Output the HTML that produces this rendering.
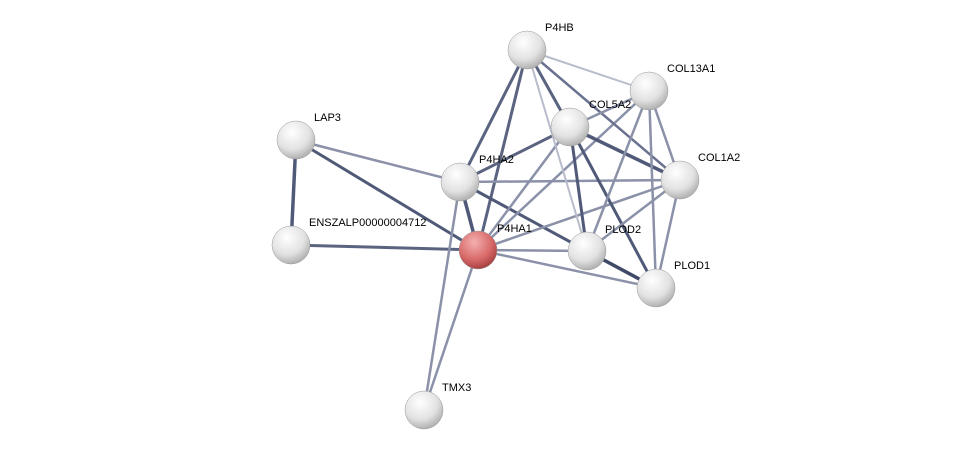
<!DOCTYPE html>
<html><head><meta charset="utf-8"><style>
html,body{margin:0;padding:0;background:#fff;}
svg{display:block;}
text{font-family:"Liberation Sans",sans-serif;font-size:11px;fill:#000;}
</style></head><body>
<svg width="975" height="456" viewBox="0 0 975 456">
<defs>
<radialGradient id="g" cx="0.4" cy="0.3" r="0.75">
<stop offset="0" stop-color="#ffffff"/><stop offset="0.6" stop-color="#e2e2e2"/><stop offset="1" stop-color="#a8a8a8"/>
</radialGradient>
<radialGradient id="r" cx="0.4" cy="0.3" r="0.75">
<stop offset="0" stop-color="#f4b0b0"/><stop offset="0.6" stop-color="#d96a6a"/><stop offset="1" stop-color="#a03a3a"/>
</radialGradient>
</defs>
<g stroke-linecap="round">
<line x1="296" y1="140" x2="291" y2="245" stroke="#505a78" stroke-width="3.5"/>
<line x1="296" y1="140" x2="478" y2="250" stroke="#505a78" stroke-width="3"/>
<line x1="296" y1="140" x2="460" y2="182" stroke="#8a91a8" stroke-width="2.5"/>
<line x1="291" y1="245" x2="478" y2="250" stroke="#5a6480" stroke-width="3"/>
<line x1="460" y1="182" x2="527" y2="50" stroke="#5a6480" stroke-width="3"/>
<line x1="478" y1="250" x2="527" y2="50" stroke="#5a6480" stroke-width="3"/>
<line x1="460" y1="182" x2="570" y2="127" stroke="#5a6480" stroke-width="3"/>
<line x1="460" y1="182" x2="680" y2="180" stroke="#8a91a8" stroke-width="2.5"/>
<line x1="460" y1="182" x2="478" y2="250" stroke="#505a78" stroke-width="3.5"/>
<line x1="460" y1="182" x2="587" y2="251" stroke="#505a78" stroke-width="3"/>
<line x1="460" y1="182" x2="424" y2="410" stroke="#8a91a8" stroke-width="2.5"/>
<line x1="478" y1="250" x2="424" y2="410" stroke="#8a91a8" stroke-width="2.5"/>
<line x1="478" y1="250" x2="570" y2="127" stroke="#8a91a8" stroke-width="2.5"/>
<line x1="478" y1="250" x2="649" y2="91" stroke="#8a91a8" stroke-width="2.5"/>
<line x1="478" y1="250" x2="680" y2="180" stroke="#8a91a8" stroke-width="2.5"/>
<line x1="478" y1="250" x2="587" y2="251" stroke="#8a91a8" stroke-width="2.5"/>
<line x1="478" y1="250" x2="656" y2="288" stroke="#8a91a8" stroke-width="2.5"/>
<line x1="527" y1="50" x2="649" y2="91" stroke="#b8bccb" stroke-width="2"/>
<line x1="527" y1="50" x2="570" y2="127" stroke="#5a6480" stroke-width="3"/>
<line x1="527" y1="50" x2="680" y2="180" stroke="#6a7290" stroke-width="2.5"/>
<line x1="527" y1="50" x2="587" y2="251" stroke="#b8bccb" stroke-width="2"/>
<line x1="570" y1="127" x2="649" y2="91" stroke="#8a91a8" stroke-width="2.5"/>
<line x1="570" y1="127" x2="680" y2="180" stroke="#505a78" stroke-width="3.5"/>
<line x1="570" y1="127" x2="587" y2="251" stroke="#505a78" stroke-width="3"/>
<line x1="570" y1="127" x2="656" y2="288" stroke="#505a78" stroke-width="3"/>
<line x1="649" y1="91" x2="680" y2="180" stroke="#8a91a8" stroke-width="2.5"/>
<line x1="649" y1="91" x2="587" y2="251" stroke="#8a91a8" stroke-width="2.5"/>
<line x1="649" y1="91" x2="656" y2="288" stroke="#8a91a8" stroke-width="2.5"/>
<line x1="680" y1="180" x2="587" y2="251" stroke="#8a91a8" stroke-width="2.5"/>
<line x1="680" y1="180" x2="656" y2="288" stroke="#8a91a8" stroke-width="2.5"/>
<line x1="587" y1="251" x2="656" y2="288" stroke="#404a68" stroke-width="3.5"/>
</g>
<g stroke="#999" stroke-width="0.5">
<circle cx="527" cy="50" r="19" fill="url(#g)"/>
<circle cx="649" cy="91" r="19" fill="url(#g)"/>
<circle cx="570" cy="127" r="19" fill="url(#g)"/>
<circle cx="296" cy="140" r="19" fill="url(#g)"/>
<circle cx="460" cy="182" r="19" fill="url(#g)"/>
<circle cx="680" cy="180" r="19" fill="url(#g)"/>
<circle cx="291" cy="245" r="19" fill="url(#g)"/>
<circle cx="478" cy="250" r="19" fill="url(#r)"/>
<circle cx="587" cy="251" r="19" fill="url(#g)"/>
<circle cx="656" cy="288" r="19" fill="url(#g)"/>
<circle cx="424" cy="410" r="19" fill="url(#g)"/>
</g>
<text x="545" y="31">P4HB</text>
<text x="667" y="72">COL13A1</text>
<text x="589" y="108">COL5A2</text>
<text x="314" y="121">LAP3</text>
<text x="479" y="163">P4HA2</text>
<text x="698" y="161">COL1A2</text>
<text x="309" y="226">ENSZALP00000004712</text>
<text x="497" y="232">P4HA1</text>
<text x="605" y="233">PLOD2</text>
<text x="674" y="269">PLOD1</text>
<text x="442" y="391">TMX3</text>
</svg>
</body></html>
